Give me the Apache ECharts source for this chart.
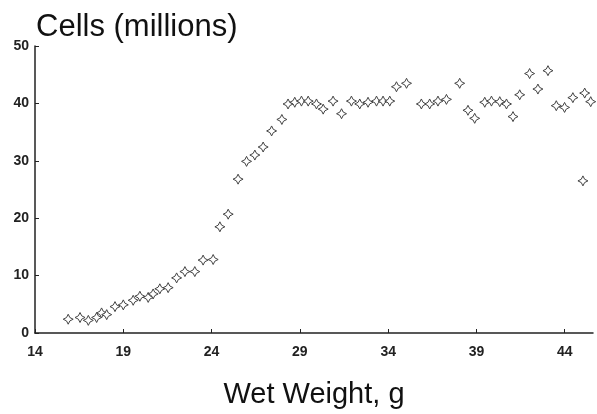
<!DOCTYPE html>
<html>
<head>
<meta charset="utf-8">
<script src="https://cdn.jsdelivr.net/npm/echarts@6/dist/echarts.min.js"></script>
<style>
html,body{margin:0;padding:0;background:#fff;}
#chart{width:597px;height:414px;}
</style>
</head>
<body>
<div id="chart"></div>
<script>
// Wet weight (g)
const wetWeight = [
  15.88, 16.55, 17.02, 17.49, 17.77, 18.06, 18.53, 19.00, 19.56, 19.94,
  20.41, 20.69, 21.07, 21.54, 22.02, 22.49, 23.05, 23.52, 24.09, 24.47,
  24.94, 25.50, 25.98, 26.45, 26.92, 27.40, 27.98, 28.33, 28.71, 29.09,
  29.47, 29.94, 30.32, 30.88, 31.36, 31.92, 32.39, 32.86, 33.34, 33.71,
  34.09, 34.47, 35.04, 35.88, 36.35, 36.82, 37.30, 38.05, 38.52, 38.90,
  39.47, 39.85, 40.32, 40.70, 41.07, 41.45, 42.01, 42.48, 43.05, 43.52,
  43.99, 44.46, 45.13, 45.47, 45.03
];
// Cells (millions)
const cells = [
  2.4, 2.7, 2.2, 2.7, 3.5, 3.2, 4.6, 4.9, 5.7, 6.4,
  6.2, 6.8, 7.7, 7.9, 9.6, 10.7, 10.7, 12.7, 12.8, 18.5,
  20.7, 26.8, 29.9, 31.0, 32.4, 35.2, 37.2, 39.9, 40.2, 40.4,
  40.4, 39.9, 39.0, 40.4, 38.2, 40.4, 39.9, 40.2, 40.4, 40.4,
  40.4, 42.9, 43.5, 39.9, 39.9, 40.4, 40.7, 43.5, 38.8, 37.4,
  40.2, 40.4, 40.3, 39.9, 37.7, 41.5, 45.2, 42.5, 45.7, 39.6,
  39.3, 41.0, 41.8, 40.3, 26.5
];
const xTicks = [14, 19, 24, 29, 34, 39, 44];
const yTicks = [0, 10, 20, 30, 40, 50];

const points = wetWeight.map((x, i) => [x, cells[i]]);

const chart = echarts.init(document.getElementById('chart'));
const font = 'Liberation Sans, Arial, Helvetica, sans-serif';
chart.setOption({
  animation: false,
  backgroundColor: '#fff',
  title: {
    text: 'Cells (millions)',
    left: 31,
    top: 7,
    textStyle: { fontFamily: font, fontSize: 31, fontWeight: 'normal', color: '#111' }
  },
  grid: { left: 35, right: 4, top: 46, bottom: 68 },
  xAxis: {
    type: 'value',
    min: 14,
    max: 45.6,
    interval: 5,
    name: 'Wet Weight, g',
    nameLocation: 'middle',
    nameGap: 47,
    nameTextStyle: { fontFamily: font, fontSize: 29, color: '#111' },
    splitLine: { show: false },
    axisLine: { lineStyle: { color: '#222', width: 1.5 } },
    axisTick: { inside: true, length: 4, customValues: xTicks, lineStyle: { color: '#222' } },
    axisLabel: { customValues: xTicks, margin: 12, fontFamily: font, fontSize: 14, fontWeight: 'bold', color: '#222' }
  },
  yAxis: {
    type: 'value',
    min: 0,
    max: 50,
    interval: 10,
    splitLine: { show: false },
    axisLine: { show: true, lineStyle: { color: '#222', width: 1.5 } },
    axisTick: { show: true, inside: true, length: 4, customValues: yTicks, lineStyle: { color: '#222' } },
    axisLabel: { customValues: yTicks, margin: 6, fontFamily: font, fontSize: 14, fontWeight: 'bold', color: '#222' }
  },
  series: [{
    type: 'scatter',
    data: points,
    clip: false,
    symbol: 'path://M0,-6 Q1,-1 6,0 Q1,1 0,6 Q-1,1 -6,0 Q-1,-1 0,-6 Z',
    symbolSize: 10,
    itemStyle: { color: '#fff', borderColor: '#444', borderWidth: 1, opacity: 1 }
  }]
});
</script>
</body>
</html>
